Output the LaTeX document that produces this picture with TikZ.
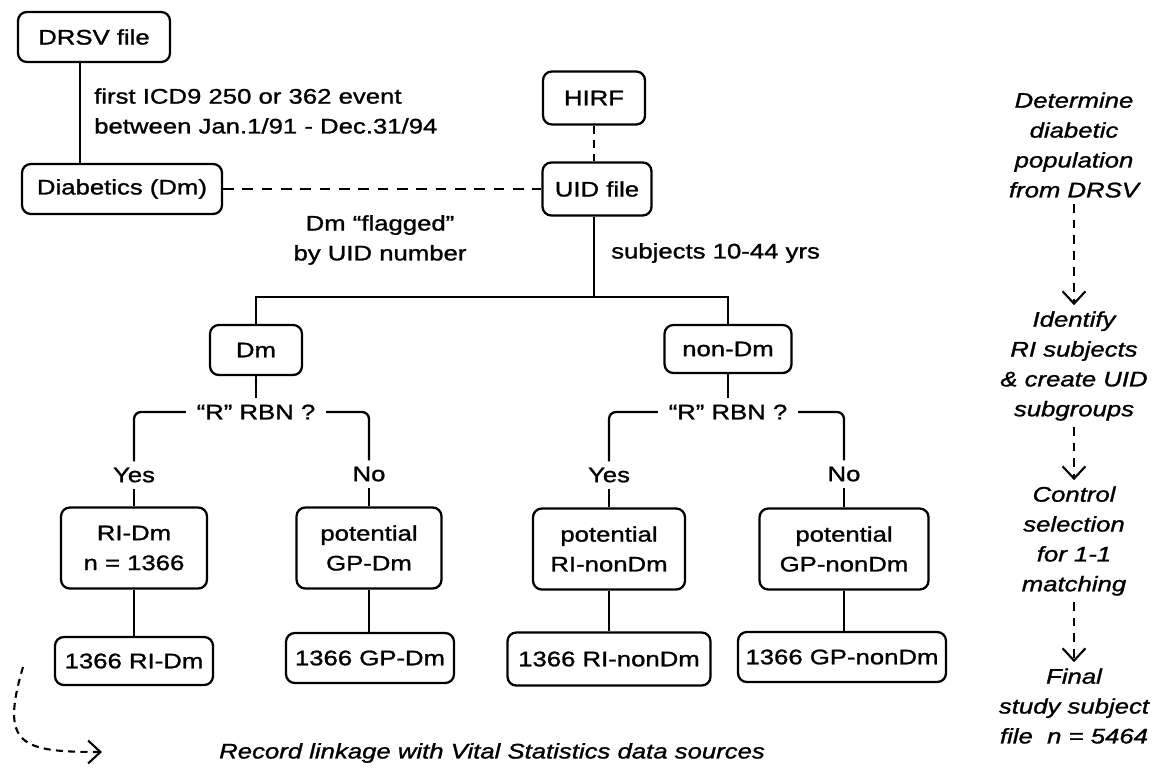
\documentclass[tikz,border=0pt]{standalone}
\usepackage{fontspec}
\setmainfont{Liberation Sans}[FakeStretch=1.22, FakeBold=1.2]
\usetikzlibrary{positioning, arrows.meta}
\newcommand{\figfont}{\fontsize{12}{17}\selectfont}

\begin{document}
\begin{tikzpicture}[
  x=0.02cm, y=-0.02cm,
  every node/.style={font=\figfont},
  box/.style={draw, line width=1.3pt, rounded corners=5pt, align=center,
              minimum height=1cm, inner sep=3pt},
  tall/.style={box, minimum height=1.62cm},
  ln/.style={line width=1.3pt},
  dsh/.style={line width=1.3pt, dash pattern=on 6pt off 5pt},
  note/.style={align=center, font=\figfont\itshape},
  flow/.style={line width=1.2pt, dash pattern=on 5pt off 4pt,
               -{Straight Barb[length=7pt, width=13pt]}},
]
  \useasboundingbox (0,0) rectangle (1158,767);

  % source files
  \node[box, minimum width=3.04cm] (drsv) at (94,37) {DRSV file};
  \node[box, minimum width=4cm] (diab) at (122,189) {Diabetics (Dm)};
  \node[box, minimum width=2.04cm, minimum height=1.06cm] (hirf) at (594,98) {HIRF};
  \node[box, minimum width=2.18cm, minimum height=1.06cm] (uid) at (597,189) {UID file};
  \node[anchor=west, align=left] (crit) at (88,111) {first ICD9 250 or 362 event\\between Jan.1/91 - Dec.31/94};
  \node[align=center] (flag) at (380,240) {Dm “flagged”\\by UID number};
  \node[anchor=west] (age) at (605,253) {subjects 10-44 yrs};
  \coordinate (fork) at (594,297);

  \draw[ln] ([xshift=-0.28cm]drsv.south) -- ([xshift=-0.28cm]drsv.south |- diab.north);
  \draw[dsh] (diab.east) -- (uid.west);
  \draw[ln, dash pattern=on 5pt off 3pt] (hirf.south) -- (hirf.south |- uid.north);
  \draw[ln] (uid.south -| fork) -- (fork);

  % Dm / non-Dm split
  \node[box, minimum width=1.84cm] (dm) at (256,350) {Dm};
  \node[box, minimum width=2.54cm, minimum height=0.96cm] (nondm) at (728,349) {non-Dm};
  \draw[ln] (dm.north) |- (fork) -| (nondm.north);

  \node[inner xsep=6pt] (rbna) at (256,412) {“R” RBN ?};
  \node (yesa) at (134,475) {Yes};
  \node (noa) at (369,474) {No};
  \node[inner xsep=6pt] (rbnb) at (728,412) {“R” RBN ?};
  \node (yesb) at (609,475) {Yes};
  \node (nob) at (844,474) {No};

  \draw[ln] (dm.south) -- (rbna.north);
  \draw[ln, rounded corners=4pt] (rbna.west) -| (yesa.north);
  \draw[ln, rounded corners=4pt] (rbna.east) -| (noa.north);
  \draw[ln] (nondm.south) -- (rbnb.north);
  \draw[ln, rounded corners=4pt] (rbnb.west) -| (yesb.north);
  \draw[ln, rounded corners=4pt] (rbnb.east) -| (nob.north);

  % study groups
  \node[tall, minimum width=2.92cm] (ridm) at (134,548) {RI-Dm\\n = 1366};
  \node[tall, minimum width=2.9cm] (pgpdm) at (369,548) {potential\\GP-Dm};
  \node[tall, minimum width=3.04cm] (prind) at (609,549) {potential\\RI-nonDm};
  \node[tall, minimum width=3.38cm] (pgpnd) at (844,549) {potential\\GP-nonDm};

  \node[box, minimum width=3.16cm, minimum height=0.96cm] (ridmf) at (134,661) {1366 RI-Dm};
  \node[box, minimum width=3.36cm] (gpdmf) at (370,658) {1366 GP-Dm};
  \node[box, minimum width=4.06cm, minimum height=1.06cm] (rindf) at (609,659) {1366 RI-nonDm};
  \node[box, minimum width=4.16cm] (gpndf) at (842,657) {1366 GP-nonDm};

  \draw[ln] (yesa.south) -- (ridm.north);
  \draw[ln] (noa.south) -- (pgpdm.north);
  \draw[ln] (yesb.south) -- (prind.north);
  \draw[ln] (nob.south) -- (pgpnd.north);
  \draw[ln] (ridm.south) -- (ridm.south |- ridmf.north);
  \draw[ln] (pgpdm.south) -- (pgpdm.south |- gpdmf.north);
  \draw[ln] (prind.south) -- (prind.south |- rindf.north);
  \draw[ln] (pgpnd.south) -- (pgpnd.south |- gpndf.north);

  % steps on the right
  \node[note] (det) at (1074,145) {Determine\\diabetic\\population\\from DRSV};
  \node[note] (ident) at (1074,366) {Identify\\RI subjects\\\& create UID\\subgroups};
  \node[note] (ctrl) at (1074,541) {Control\\selection\\for 1-1\\matching};
  \node[note] (final) at (1074,706) {Final\\study subject\\file~~n = 5464};
  \draw[flow] (det) -- (ident);
  \draw[flow] (ident) -- (ctrl);
  \draw[flow] (ctrl) -- (final);

  % record linkage
  \coordinate (lka) at (23,667);
  \coordinate (lkb) at (102,752);
  \draw[flow, dash pattern=on 4pt off 3pt] (lka) .. controls (0,745) and (20,752) .. (lkb);
  \node[note, anchor=west] (vs) at (213,753) {Record linkage with Vital Statistics data sources};
\end{tikzpicture}
\end{document}
